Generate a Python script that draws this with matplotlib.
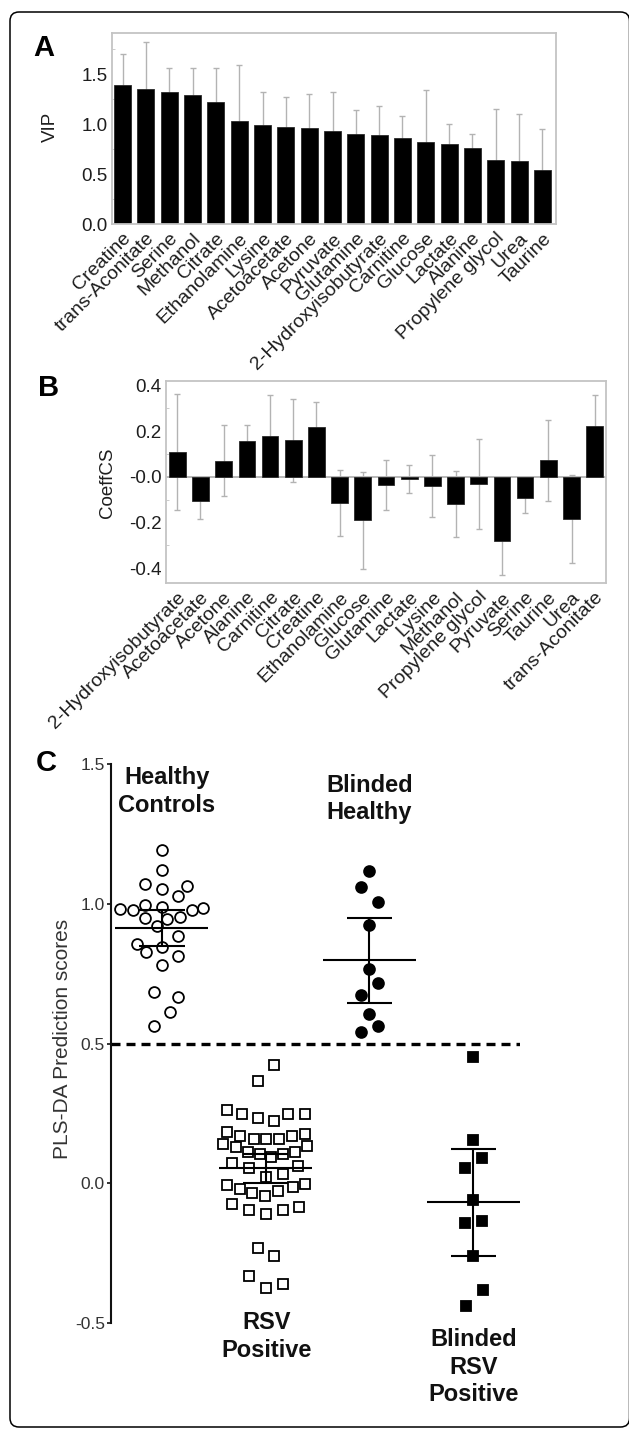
import matplotlib
matplotlib.use('Agg')
import matplotlib.pyplot as plt
from matplotlib.patches import FancyBboxPatch
from matplotlib.transforms import IdentityTransform
import numpy as np

plt.rcParams['font.family'] = ['Liberation Sans', 'DejaVu Sans']

# ---------------- Panel A data (VIP) ----------------
vip_names = ['Creatine', 'trans-Aconitate', 'Serine', 'Methanol', 'Citrate',
             'Ethanolamine', 'Lysine', 'Acetoacetate', 'Acetone', 'Pyruvate',
             'Glutamine', '2-Hydroxyisobutyrate', 'Carnitine', 'Glucose',
             'Lactate', 'Alanine', 'Propylene glycol', 'Urea', 'Taurine']
vip_values = [1.39, 1.356, 1.32, 1.29, 1.22, 1.033, 0.993, 0.973, 0.966, 0.933,
              0.901, 0.894, 0.861, 0.825, 0.799, 0.759, 0.640, 0.630, 0.545]
vip_errors = [0.31, 0.47, 0.246, 0.276, 0.346, 0.56, 0.333, 0.303, 0.337, 0.394,
              0.244, 0.291, 0.225, 0.515, 0.208, 0.145, 0.512, 0.469, 0.405]

# ---------------- Panel B data (CoeffCS) ----------------
coef_names = ['2-Hydroxyisobutyrate', 'Acetoacetate', 'Acetone', 'Alanine',
              'Carnitine', 'Citrate', 'Creatine', 'Ethanolamine', 'Glucose',
              'Glutamine', 'Lactate', 'Lysine', 'Methanol', 'Propylene glycol',
              'Pyruvate', 'Serine', 'Taurine', 'Urea', 'trans-Aconitate']
coef_values = [0.108, -0.107, 0.070, 0.155, 0.180, 0.159, 0.218, -0.114, -0.191,
               -0.036, -0.010, -0.041, -0.118, -0.032, -0.280, -0.093, 0.072,
               -0.185, 0.223]
coef_errors = [0.252, 0.078, 0.156, 0.070, 0.178, 0.183, 0.110, 0.144, 0.213,
               0.108, 0.063, 0.137, 0.145, 0.195, 0.149, 0.066, 0.178, 0.192,
               0.135]
coef_tick_labels = ['-0.4', '-0.2', '-0.0', '0.2', '0.4']

# ---------------- Panel C data (PLS-DA prediction scores) ----------------
hc_scores = [1.192, 1.120, 1.072, 1.064, 1.054, 1.028, 0.997, 0.988, 0.980, 0.976,
             0.978, 0.985, 0.949, 0.944, 0.954, 0.922, 0.884, 0.856, 0.846, 0.826,
             0.812, 0.781, 0.685, 0.667, 0.614, 0.562]
rsv_scores = [0.423, 0.367,
              0.262, 0.248, 0.232, 0.224, 0.248, 0.248,
              0.184, 0.169, 0.160, 0.158, 0.160, 0.169, 0.176,
              0.142, 0.128, 0.113, 0.104, 0.094, 0.106, 0.113, 0.133,
              0.071, 0.056, 0.061, 0.023, 0.032,
              -0.007, -0.019, -0.035, -0.046, -0.029, -0.013, -0.004,
              -0.075, -0.094, -0.109, -0.097, -0.085,
              -0.231, -0.262,
              -0.332, -0.375, -0.360]
bh_scores = [1.117, 1.060, 1.007, 0.923, 0.768, 0.717, 0.674, 0.607, 0.562, 0.542]
br_scores = [0.451, 0.154, 0.091, 0.053, -0.061, -0.141, -0.136, -0.262, -0.382, -0.439]

group_means = [0.914, 0.053, 0.798, -0.067]
group_ci_low = [0.850, 0.002, 0.644, -0.262]
group_ci_high = [0.976, 0.105, 0.950, 0.123]
group_label_lines = [['Healthy', 'Controls'], ['RSV', 'Positive'],
                     ['Blinded', 'Healthy'], ['Blinded', 'RSV', 'Positive']]
threshold = 0.5

# beeswarm layout (horizontal spread of the points)
hc_spread = [0, 0, -0.16, 0.24, 0, 0.16, -0.16, 0, -0.40, -0.28, 0.29, 0.40, -0.16,
             0.05, 0.18, -0.05, 0.16, -0.24, 0, -0.15, 0.16, 0, -0.07, 0.16, 0.08, -0.07]
rsv_spread = [0.085, -0.075,
              -0.373, -0.229, -0.075, 0.085, 0.219, 0.380,
              -0.373, -0.245, -0.111, 0.005, 0.130, 0.252, 0.380,
              -0.406, -0.284, -0.166, -0.053, 0.05, 0.171, 0.284, 0.402,
              -0.325, -0.159, 0.316, 0.005, 0.166,
              -0.373, -0.245, -0.133, -0.005, 0.123, 0.262, 0.380,
              -0.325, -0.159, 0.005, 0.166, 0.325,
              -0.075, 0.085,
              -0.159, 0.005, 0.166]
bh_spread = [0, -0.085, 0.08, 0, 0, 0.08, -0.085, 0, 0.08, -0.085]
br_spread = [0, 0, 0.087, -0.08, 0, -0.08, 0.087, 0, 0.09, -0.07]

# ---------------- figure ----------------
W, H = 629, 1430
fig = plt.figure(figsize=(W / 100, H / 100), dpi=100)
fig.patch.set_facecolor('white')


def px_axes(l, t, r, b):
    return fig.add_axes([l / W, 1 - b / H, (r - l) / W, (b - t) / H])


def fig_text(x, y, s, **kw):
    fig.text(x / W, 1 - y / H, s, **kw)


# outer rounded frame
frame = FancyBboxPatch((10, 3), 619.5, 1415, boxstyle='round,pad=0,rounding_size=9',
                       transform=IdentityTransform(), fill=False, edgecolor='black',
                       linewidth=1.1)
fig.patches.append(frame)

FRAME_GRAY = '#c4c4c4'
ERR_GRAY = '#b3b3b3'
TXT = '#1e1e1e'


def style_box(ax):
    for s in ax.spines.values():
        s.set_color(FRAME_GRAY)
        s.set_linewidth(1.3)


# ---------------- Panel A ----------------
axA = px_axes(111.7, 33.3, 556, 224.3)
xa = np.arange(len(vip_names))
axA.errorbar(xa, vip_values, yerr=vip_errors, fmt='none', ecolor=ERR_GRAY,
             elinewidth=1.0, capsize=2.2, capthick=1.0, zorder=1)
axA.bar(xa, vip_values, width=0.73, color='black', edgecolor='#2a2a2a',
        linewidth=0.6, zorder=2)
axA.set_xlim(-0.465, 18.58)
axA.set_ylim(0, 1.91)
style_box(axA)
axA.set_yticks([0, 0.5, 1.0, 1.5])
axA.set_yticklabels(['0.0', '0.5', '1.0', '1.5'])
axA.set_yticks([0.25, 0.75, 1.25, 1.75], minor=True)
axA.tick_params(axis='y', which='major', length=0, pad=3, labelsize=13.5, labelcolor=TXT)
axA.tick_params(axis='y', which='minor', length=2.5, direction='in', color=FRAME_GRAY)
axA.set_xticks(xa)
axA.set_xticklabels(vip_names, rotation=45, ha='right', rotation_mode='anchor',
                    fontsize=14, color=TXT)
axA.tick_params(axis='x', length=0, pad=4)
fig_text(50, 127, 'VIP', rotation=90, ha='center', va='center', fontsize=13.5, color=TXT)

# ---------------- Panel B ----------------
axB = px_axes(166, 381, 606, 583.3)
xb = np.arange(len(coef_names))
axB.axhline(0, color=ERR_GRAY, linewidth=1.3, zorder=1.5)
axB.errorbar(xb, coef_values, yerr=coef_errors, fmt='none', ecolor=ERR_GRAY,
             elinewidth=1.0, capsize=2.2, capthick=1.0, zorder=1)
axB.bar(xb, coef_values, width=0.72, color='black', edgecolor='#2a2a2a',
        linewidth=0.6, zorder=2)
axB.set_xlim(-0.487, 18.487)
axB.set_ylim(-0.467, 0.419)
style_box(axB)
axB.set_yticks([-0.4, -0.2, 0.0, 0.2, 0.4])
axB.set_yticklabels(coef_tick_labels)
axB.set_yticks([-0.3, -0.1, 0.1, 0.3], minor=True)
axB.tick_params(axis='y', which='major', length=0, pad=3, labelsize=13.5, labelcolor=TXT)
axB.tick_params(axis='y', which='minor', length=2.5, direction='in', color=FRAME_GRAY)
axB.set_xticks(xb)
axB.set_xticklabels(coef_names, rotation=45, ha='right', rotation_mode='anchor',
                    fontsize=14, color=TXT)
axB.tick_params(axis='x', length=0, pad=4)
fig_text(107.6, 483, 'CoeffCS', rotation=90, ha='center', va='center', fontsize=13.5,
         color=TXT)

# ---------------- Panel C ----------------
axC = px_axes(111, 764, 520, 1323)
axC.set_xlim(0.512, 4.449)
axC.set_ylim(-0.5, 1.5)
for s in ['top', 'right', 'bottom']:
    axC.spines[s].set_visible(False)
axC.spines['left'].set_color('#111111')
axC.spines['left'].set_linewidth(1.5)
axC.set_xticks([])
axC.set_yticks([-0.5, 0.0, 0.5, 1.0, 1.5])
axC.set_yticklabels(['-0.5', '0.0', '0.5', '1.0', '1.5'])
axC.tick_params(axis='y', length=3, width=1.2, pad=1.5, labelsize=12.5,
                labelcolor='#333333', color='#111111')

axC.axhline(threshold, color='black', linewidth=2.4, dashes=(2.7, 1.8), zorder=1)

groups = [(hc_scores, hc_spread, 'o', 'none', 7.8),
          (rsv_scores, rsv_spread, 's', 'none', 7.2),
          (bh_scores, bh_spread, 'o', 'black', 7.8),
          (br_scores, br_spread, 's', 'black', 7.2)]
for i, (scores, spread, mk, fc, ms) in enumerate(groups):
    pos = i + 1
    axC.plot(pos + np.asarray(spread), scores, linestyle='none', marker=mk,
             markersize=ms, markerfacecolor=fc, markeredgecolor='black',
             markeredgewidth=1.3, zorder=3, clip_on=False)
    axC.hlines(group_means[i], pos - 0.45, pos + 0.45, color='black', linewidth=1.5, zorder=4)
    axC.vlines(pos, group_ci_low[i], group_ci_high[i], color='black', linewidth=1.5, zorder=4)
    axC.hlines([group_ci_low[i], group_ci_high[i]], pos - 0.22, pos + 0.22,
               color='black', linewidth=1.5, zorder=4)

label_pos = [(1.051, [1.451, 1.353]), (2.013, [-0.499, -0.600]),
             (3.0, [1.423, 1.326]), (4.005, [-0.56, -0.66, -0.757])]
for lines, (lx, ys) in zip(group_label_lines, label_pos):
    for s, yy in zip(lines, ys):
        axC.text(lx, yy, s, ha='center', va='center', fontsize=17, fontweight='bold',
                 color='#111111', clip_on=False)

fig_text(62, 1038.5, 'PLS-DA Prediction scores', rotation=90, ha='center', va='center',
         fontsize=15, color='#333333')

# panel letters
fig_text(44, 48, 'A', ha='center', va='center', fontsize=21, fontweight='bold')
fig_text(49, 388, 'B', ha='center', va='center', fontsize=21, fontweight='bold')
fig_text(46, 763, 'C', ha='center', va='center', fontsize=21, fontweight='bold')

fig.savefig('out.png', dpi=100)
